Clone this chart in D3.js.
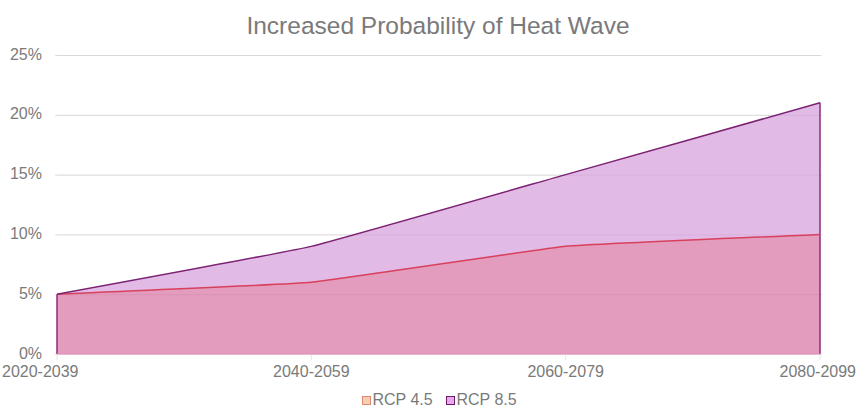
<!DOCTYPE html>
<html>
<head>
<meta charset="utf-8">
<script src="https://cdnjs.cloudflare.com/ajax/libs/d3/7.8.5/d3.min.js"></script>
<style>
  html, body { margin: 0; padding: 0; background: #fff; }
  svg { display: block; font-family: "Liberation Sans", Arial, sans-serif; }
</style>
</head>
<body>
<svg id="chart" width="858" height="409"></svg>
<script>
const periods = ["2020-2039", "2040-2059", "2060-2079", "2080-2099"];
const rcp45 = [5, 6, 9, 10];
const rcp85 = [5, 9, 15, 21];
const yTicks = [0, 5, 10, 15, 20, 25];
const seriesNames = ["RCP 4.5", "RCP 8.5"];

const svg = d3.select("#chart");
const margin = { left: 57, right: 38, top: 55, bottom: 55 };
const W = 858, H = 409;
const textColor = "#7a7a7a";

const x = d3.scalePoint().domain(periods).range([margin.left, W - margin.right]);
const y = d3.scaleLinear().domain([0, 25]).range([H - margin.bottom, margin.top]);

// title
svg.append("text")
  .attr("x", 438).attr("y", 34)
  .attr("text-anchor", "middle")
  .attr("font-size", 24.5)
  .attr("fill", textColor)
  .text("Increased Probability of Heat Wave");

// gridlines (under the areas)
svg.append("g")
  .selectAll("line")
  .data(yTicks)
  .join("line")
  .attr("x1", margin.left - 2).attr("x2", W - margin.right + 2)
  .attr("y1", d => y(d) + 0.5).attr("y2", d => y(d) + 0.5)
  .attr("stroke", "#e3e3e3").attr("stroke-width", 1);

// small category ticks below the baseline
svg.append("g")
  .selectAll("line")
  .data(periods)
  .join("line")
  .attr("x1", d => x(d)).attr("x2", d => x(d))
  .attr("y1", y(0)).attr("y2", y(0) + 6)
  .attr("stroke", "#e6e6e6").attr("stroke-width", 1);

// y labels
const yAxis = d3.axisLeft(y).tickValues(yTicks).tickFormat(d => d + "%").tickSize(0).tickPadding(15);
const gy = svg.append("g").attr("transform", `translate(${margin.left},-1)`).call(yAxis);
gy.select(".domain").remove();
gy.selectAll("text").attr("font-size", 16).attr("fill", textColor)
  .attr("font-family", "Liberation Sans, Arial, sans-serif");

// x labels (edge labels kept inside the canvas)
const xAxis = d3.axisBottom(x).tickSize(0).tickPadding(12);
const gx = svg.append("g").attr("transform", `translate(0,${y(0)})`).call(xAxis);
gx.select(".domain").remove();
gx.selectAll(".tick").attr("transform", null);
gx.selectAll("text")
  .attr("font-size", 16).attr("fill", textColor)
  .attr("font-family", "Liberation Sans, Arial, sans-serif")
  .attr("text-anchor", (d, i) => i === 0 ? "start" : i === periods.length - 1 ? "end" : "middle")
  .attr("x", (d, i) => i === 0 ? 2 : i === periods.length - 1 ? W - 2 : x(d));

const curve = d3.curveCardinal.tension(0.75);
const area = vals => d3.area()
  .x((d, i) => x(periods[i]))
  .y0(y(0))
  .y1(d => y(d))
  .curve(curve)(vals);
const line = vals => d3.line()
  .x((d, i) => x(periods[i]))
  .y(d => y(d))
  .curve(curve)(vals);

// RCP 8.5 area
svg.append("path").attr("d", area(rcp85)).attr("fill", "#e2bae6");
// RCP 4.5 area
svg.append("path").attr("d", area(rcp45)).attr("fill", "#e39cbd");

// faint gridlines seen through the fills
svg.append("g")
  .selectAll("line")
  .data(yTicks.filter(d => d > 0))
  .join("line")
  .attr("x1", margin.left).attr("x2", W - margin.right)
  .attr("y1", d => y(d) + 0.5).attr("y2", d => y(d) + 0.5)
  .attr("stroke", "rgba(120,60,100,0.08)").attr("stroke-width", 1);

// outline edges of RCP 8.5
const x0 = x(periods[0]), x1 = x(periods[periods.length - 1]);
svg.append("line").attr("x1", x0).attr("x2", x0).attr("y1", y(0)).attr("y2", y(rcp85[0]))
  .attr("stroke", "#8e2a7e").attr("stroke-width", 1.5);
svg.append("line").attr("x1", x1).attr("x2", x1).attr("y1", y(0)).attr("y2", y(rcp85[rcp85.length - 1]))
  .attr("stroke", "#8e2a7e").attr("stroke-width", 1.5);
svg.append("line").attr("x1", x0).attr("x2", x1).attr("y1", y(0)).attr("y2", y(0))
  .attr("stroke", "#e48fb4").attr("stroke-width", 1);

svg.append("path").attr("d", line(rcp45))
  .attr("fill", "none").attr("stroke", "#d8405c").attr("stroke-width", 1.5);
svg.append("path").attr("d", line(rcp85))
  .attr("fill", "none").attr("stroke", "#7c2272").attr("stroke-width", 1.5);

// legend
const legend = [
  { name: seriesNames[0], fill: "#f8cdb5", stroke: "#e08a6a", x: 362 },
  { name: seriesNames[1], fill: "#e9a7ef", stroke: "#6b1c65", x: 446 }
];
const lg = svg.append("g");
legend.forEach(l => {
  lg.append("rect").attr("x", l.x + 0.5).attr("y", 396.5).attr("width", 8).attr("height", 8)
    .attr("fill", l.fill).attr("stroke", l.stroke).attr("stroke-width", 1);
  lg.append("text").attr("x", l.x + 10.5).attr("y", 405)
    .attr("font-size", 16).attr("fill", textColor).text(l.name);
});
</script>
</body>
</html>
